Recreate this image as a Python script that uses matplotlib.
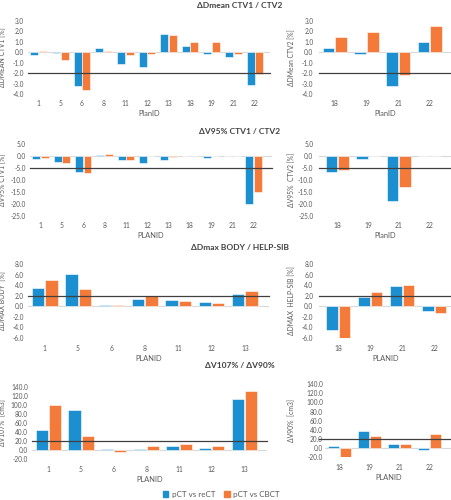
import matplotlib
matplotlib.use("Agg")
import matplotlib.pyplot as plt
import numpy as np

plt.rcParams['font.family'] = ['Lato', 'DejaVu Sans']

# data (blue = pCT vs reCT, orange = pCT vs CBCT)
ids_ctv1 = ['1', '5', '6', '8', '11', '12', '13', '18', '19', '21', '22']
ids_ctv2 = ['18', '19', '21', '22']
ids_body = ['1', '5', '6', '8', '11', '12', '13']

dmean_ctv1_re = [-0.25, -0.05, -3.2, 0.4, -1.1, -1.45, 1.7, 0.6, -0.15, -0.5, -3.1]
dmean_ctv1_cb = [0.12, -0.73, -3.57, 0.1, -0.3, -0.15, 1.6, 0.93, 1.0, -0.15, -2.1]
dmean_ctv2_re = [0.42, -0.2, -3.2, 1.0]
dmean_ctv2_cb = [1.45, 1.94, -2.13, 2.48]

v95_ctv1_re = [-1.1, -2.4, -6.7, 0.55, -1.5, -2.8, -1.5, 0.2, -0.7, 0.0, -19.9]
v95_ctv1_cb = [-0.9, -2.9, -7.1, 1.0, -1.5, 0.2, -0.6, 0.0, 0.0, 0.2, -15.2]
v95_ctv2_re = [-6.6, -1.1, -18.8, 0.0]
v95_ctv2_cb = [-5.9, 0.0, -12.9, 0.0]

dmax_body_re = [3.45, 6.2, 0.3, 1.3, 1.1, 0.8, 2.4]
dmax_body_cb = [4.95, 3.25, 0.2, 1.9, 1.05, 0.6, 2.85]
dmax_sib_re = [-4.6, 1.7, 3.8, -0.95]
dmax_sib_cb = [-6.0, 2.67, 4.0, -1.2]

v107_re = [45, 88, 3, 2, 10, 4, 113]
v107_cb = [100, 31, -4, 9, 14, 9, 132]
v90_re = [5, 37, 8, -5]
v90_cb = [-20, 27, 8, 30]

BLUE = '#1B8FD0'
ORANGE = '#F47A3A'
GRAY = '#595959'
W, H = 452, 500

fig = plt.figure(figsize=(W / 100, H / 100), dpi=100)


def make_ax(x0, x1, ytop, ybot):
    return fig.add_axes([x0 / W, 1 - ybot / H, (x1 - x0) / W, (ybot - ytop) / H])


def panel(ax, ids, re, cb, ylim, step, ref, ylabel, xlabel, xlim, tpad, ylx, ypad=3, line=(0, 1)):
    x = np.arange(len(ids))
    ax.bar(x - 0.2, re, width=0.37, color=BLUE, edgecolor='white', linewidth=0.4, zorder=2)
    ax.bar(x + 0.2, cb, width=0.37, color=ORANGE, edgecolor='white', linewidth=0.4, zorder=2)
    ax.axhline(0, color='#D9D9D9', lw=0.8, zorder=1)
    ax.axhline(ref, xmin=line[0], xmax=line[1], color='#404040', lw=0.9, zorder=3, clip_on=False)
    ax.set_ylim(*ylim)
    ax.set_xlim(*xlim)
    ticks = np.arange(ylim[0], ylim[1] + step / 2, step)
    ax.set_yticks(ticks)
    ax.set_yticklabels([f'{t:.1f}' for t in ticks])
    ax.set_xticks(x)
    ax.set_xticklabels(ids)
    ax.tick_params(length=0, labelcolor=GRAY)
    ax.tick_params(axis='x', pad=tpad, labelsize=4.9)
    ax.tick_params(axis='y', pad=ypad, labelsize=4.7)
    for s in ax.spines.values():
        s.set_visible(False)
    ax.set_ylabel(ylabel, fontsize=4.9, color=GRAY)
    ax.yaxis.set_label_coords(ylx, 0.5)
    ax.set_xlabel(xlabel, fontsize=5.4, color=GRAY, labelpad=2.5)


# row 1
ax = make_ax(28, 270, 20.7, 94.3)
panel(ax, ids_ctv1, dmean_ctv1_re, dmean_ctv1_cb, (-4, 3), 1, -2, 'ΔDMEAN CTV1 [%]', 'PlanID',
      (-0.5, 10.7), 4, -22 / 242)
ax = make_ax(319, 452, 20.7, 94.3)
panel(ax, ids_ctv2, dmean_ctv2_re, dmean_ctv2_cb, (-4, 3), 1, -2, 'ΔDMean CTV2 [%]', 'PlanID',
      (-0.5, 3.7), 4, -24 / 133, ypad=4)

# row 2
ax = make_ax(30, 272, 144, 216)
panel(ax, ids_ctv1, v95_ctv1_re, v95_ctv1_cb, (-25, 5), 5, -5, 'ΔV95% CTV1 [%]', 'PLANID',
      (-0.5, 10.86), 4, -24 / 242)
ax = make_ax(319, 452, 144, 216)
panel(ax, ids_ctv2, v95_ctv2_re, v95_ctv2_cb, (-25, 5), 5, -5, 'ΔV95%  CTV2 [%]', 'PlanID',
      (-0.6, 3.73), 4, -24 / 133, ypad=4)

# row 3
ax = make_ax(28, 269, 264.3, 337.7)
panel(ax, ids_body, dmax_body_re, dmax_body_cb, (-6, 8), 2, 2, 'ΔDMAX BODY  [%]', 'PLANID',
      (-0.5, 6.72), 5, -22 / 241)
ax = make_ax(319, 452, 264.3, 337.7)
panel(ax, ids_ctv2, dmax_sib_re, dmax_sib_cb, (-6, 8), 2, 2, 'ΔDMAX  HELP-SIB [%]', 'PLANID',
      (-0.6, 3.56), 5, -24 / 133, ypad=4)

# row 4
ax = make_ax(32, 267, 387, 459)
panel(ax, ids_body, v107_re, v107_cb, (-20, 140), 20, 20, 'ΔV107%  [cm3]', 'PLANID',
      (-0.5, 6.69), 5, -26 / 235)
ax = make_ax(325, 452, 384.3, 457)
panel(ax, ids_ctv2, v90_re, v90_cb, (-20, 140), 20, 20, 'ΔV90%  [cm3]', 'PLANID',
      (-0.47, 3.76), 5, -30 / 127, ypad=1.5, line=(-6 / 127, 1))

# titles
for txt, y in [('ΔDmean CTV1 / CTV2', 6), ('ΔV95% CTV1 / CTV2', 132),
               ('ΔDmax BODY / HELP-SIB', 248), ('ΔV107% / ΔV90%', 366)]:
    fig.text(240 / W, 1 - y / H, txt, ha='center', va='center', fontsize=6.0,
             fontweight='bold', color='#404040')

# legend
handles = [plt.Rectangle((0, 0), 1, 1, color=BLUE), plt.Rectangle((0, 0), 1, 1, color=ORANGE)]
fig.legend(handles, ['pCT vs reCT', 'pCT vs CBCT'], loc='center', bbox_to_anchor=(221 / W, 1 - 494 / H),
           ncol=2, frameon=False, fontsize=5.8, handlelength=0.7, handleheight=0.7,
           handletextpad=0.4, columnspacing=1.1, labelcolor=GRAY)

fig.savefig('out.png', dpi=100)
